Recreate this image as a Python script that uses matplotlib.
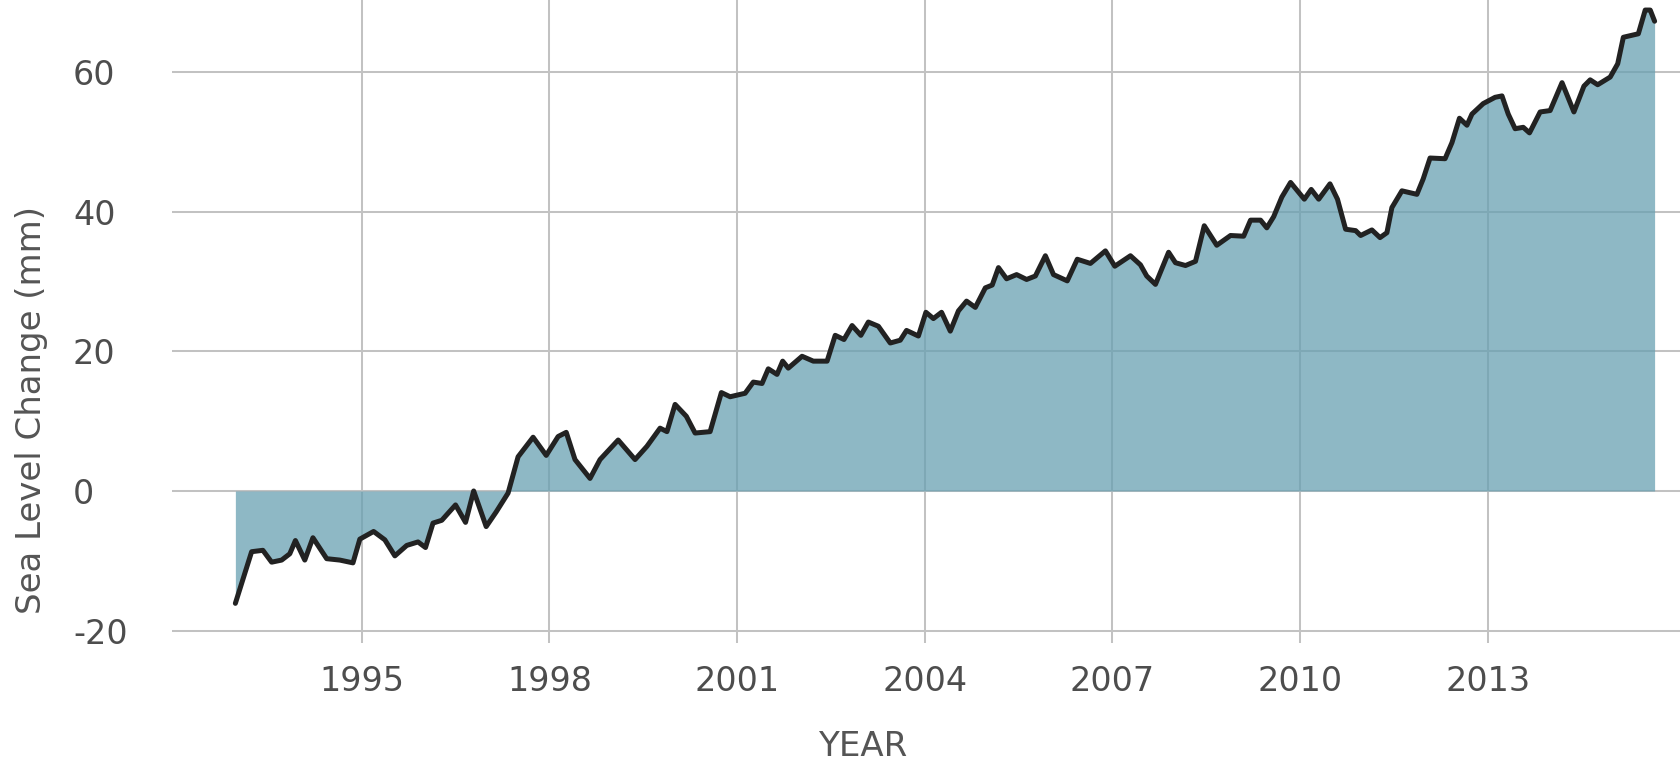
import numpy as np
import matplotlib
matplotlib.use('Agg')
import matplotlib.pyplot as plt

plt.rcParams['axes.unicode_minus'] = False

# global mean sea level change
years = [1992.98, 1993.13, 1993.24, 1993.42, 1993.56, 1993.72, 1993.85, 1993.94,
         1994.09, 1994.22, 1994.44, 1994.65, 1994.86, 1994.97, 1995.19, 1995.37,
         1995.53, 1995.72, 1995.90, 1996.02, 1996.14, 1996.28, 1996.50, 1996.66,
         1996.79, 1996.99, 1997.15, 1997.34, 1997.50, 1997.74, 1997.95, 1998.14,
         1998.27, 1998.41, 1998.65, 1998.81, 1999.10, 1999.37, 1999.56, 1999.77,
         1999.88, 2000.01, 2000.19, 2000.33, 2000.57, 2000.75, 2000.89, 2001.13,
         2001.26, 2001.40, 2001.50, 2001.64, 2001.73, 2001.82, 2002.04, 2002.22,
         2002.44, 2002.57, 2002.71, 2002.84, 2002.98, 2003.10, 2003.26, 2003.45,
         2003.61, 2003.71, 2003.90, 2004.02, 2004.14, 2004.27, 2004.41, 2004.54,
         2004.67, 2004.81, 2004.97, 2005.08, 2005.18, 2005.31, 2005.47, 2005.63,
         2005.77, 2005.93, 2006.06, 2006.28, 2006.44, 2006.65, 2006.89, 2007.04,
         2007.29, 2007.45, 2007.55, 2007.69, 2007.90, 2008.01, 2008.17, 2008.33,
         2008.47, 2008.67, 2008.89, 2009.10, 2009.21, 2009.37, 2009.47, 2009.58,
         2009.71, 2009.85, 2010.07, 2010.18, 2010.30, 2010.48, 2010.60, 2010.73,
         2010.89, 2010.97, 2011.15, 2011.28, 2011.39, 2011.47, 2011.63, 2011.87,
         2011.97, 2012.08, 2012.32, 2012.43, 2012.55, 2012.67, 2012.75, 2012.93,
         2013.12, 2013.23, 2013.33, 2013.44, 2013.57, 2013.67, 2013.84, 2014.00,
         2014.19, 2014.38, 2014.54, 2014.64, 2014.76, 2014.96, 2015.08, 2015.17,
         2015.41, 2015.52, 2015.60, 2015.67]
sea_level = [-16.1, -11.8, -8.7, -8.5, -10.2, -9.9, -9.0, -7.1,
             -9.9, -6.7, -9.7, -9.9, -10.3, -6.9, -5.8, -7.0,
             -9.3, -7.8, -7.3, -8.1, -4.6, -4.2, -2.0, -4.5,
             0.0, -5.1, -3.0, -0.3, 4.9, 7.7, 5.1, 7.8,
             8.4, 4.5, 1.8, 4.5, 7.3, 4.5, 6.4, 9.0,
             8.5, 12.4, 10.7, 8.3, 8.5, 14.1, 13.5, 14.0,
             15.6, 15.4, 17.5, 16.7, 18.6, 17.6, 19.3, 18.6,
             18.6, 22.3, 21.7, 23.7, 22.3, 24.2, 23.6, 21.2,
             21.6, 23.0, 22.2, 25.6, 24.7, 25.6, 22.9, 25.8,
             27.2, 26.3, 29.1, 29.5, 32.0, 30.4, 31.0, 30.3,
             30.8, 33.7, 31.0, 30.1, 33.2, 32.6, 34.4, 32.2,
             33.7, 32.4, 30.8, 29.6, 34.2, 32.7, 32.3, 32.9,
             38.0, 35.2, 36.6, 36.5, 38.8, 38.8, 37.7, 39.3,
             42.1, 44.2, 41.8, 43.2, 41.8, 44.0, 41.8, 37.5,
             37.3, 36.6, 37.4, 36.3, 37.0, 40.6, 43.0, 42.5,
             44.7, 47.7, 47.6, 49.9, 53.4, 52.4, 54.0, 55.5,
             56.4, 56.6, 54.0, 51.9, 52.1, 51.3, 54.3, 54.5,
             58.5, 54.3, 58.0, 58.9, 58.2, 59.3, 61.2, 65.0,
             65.5, 68.9, 68.9, 67.3]

x_ticks = [1995, 1998, 2001, 2004, 2007, 2010, 2013]
y_ticks = [-20, 0, 20, 40, 60]

FILL = '#679fb1'
LINE = '#222222'
GRID = '#c2c2c2'
TEXT = '#4d4d4d'

fig = plt.figure(figsize=(16.8, 7.61), dpi=100)
ax = fig.add_axes([172 / 1680, 1 - 643 / 761, 1 - 172 / 1680, 643 / 761])

x = np.array(years)
y = np.array(sea_level)
ax.fill_between(x, y, 0, color=FILL, alpha=0.74, lw=0, zorder=2)
ax.plot(x, y, color=LINE, lw=3.6, solid_joinstyle='round',
        solid_capstyle='round', zorder=3)

ax.set_xlim(1991.967, 2016.076)
ax.set_ylim(-21.78, 70.34)
ax.set_xticks(x_ticks)
ax.set_yticks(y_ticks)

ax.set_axisbelow(True)
ax.grid(True, color=GRID, lw=1.45)
for s in ax.spines.values():
    s.set_visible(False)

ax.tick_params(axis='both', length=0, labelsize=24, labelcolor=TEXT)
ax.tick_params(axis='x', pad=16)
ax.tick_params(axis='y', pad=71.3)
for lab in ax.get_yticklabels():
    lab.set_horizontalalignment('left')

fig.text(32 / 1680, 1 - 410 / 761, 'Sea Level Change (mm)', rotation=90,
         ha='center', va='center', fontsize=24.5, color='#555555')
fig.text(863 / 1680, 1 - 746 / 761, 'YEAR', ha='center', va='center',
         fontsize=24.5, color='#555555')

fig.savefig('out.png', dpi=100)
